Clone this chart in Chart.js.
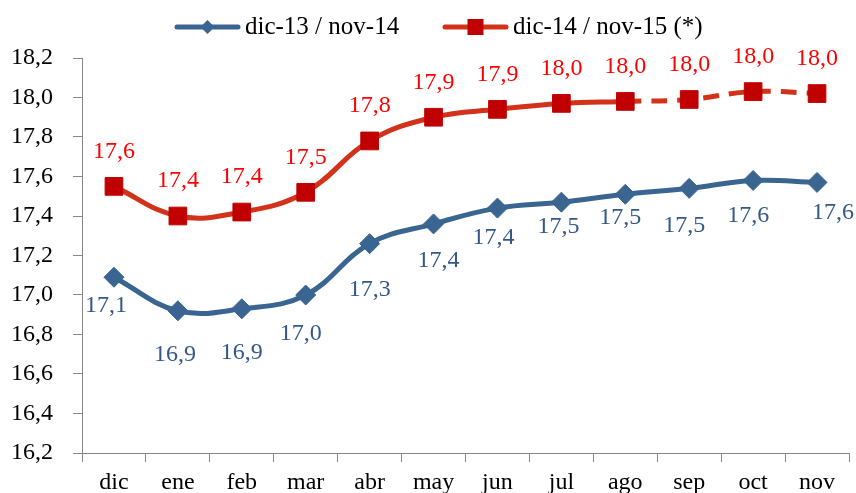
<!DOCTYPE html>
<html>
<head>
<meta charset="utf-8">
<script src="https://cdn.jsdelivr.net/npm/chart.js@4/dist/chart.umd.min.js"></script>
<style>
  html, body { margin: 0; padding: 0; background: #fff; }
  #caixa { width: 856px; height: 493px; position: relative; }
</style>
</head>
<body>
<div id="caixa"><canvas id="grafico"></canvas></div>
<script>
// Meses do eixo X e as duas séries
const MESES = ['dic', 'ene', 'feb', 'mar', 'abr', 'may', 'jun', 'jul', 'ago', 'sep', 'oct', 'nov'];
const SERIE_1 = [17.09, 16.92, 16.93, 17.00, 17.26, 17.36, 17.44, 17.47, 17.51, 17.54, 17.58, 17.57];
const SERIE_2 = [17.55, 17.40, 17.42, 17.52, 17.78, 17.90, 17.94, 17.97, 17.98, 17.99, 18.03, 18.02];
const NOMES = ['dic-13 / nov-14', 'dic-14 / nov-15 (*)'];
const Y_MIN = 16.2, Y_MAX = 18.2, Y_PASSO = 0.2;

const AZUL = '#3A6591';
const AZUL_TEXTO = '#34588A';
const VERMELHO_LINHA = '#D3321A';
const VERMELHO_PONTO = '#C00000';
const VERMELHO_TEXTO = '#FF0000';
const FONTE = '"Liberation Serif", "Times New Roman", serif';

// deslocamento dos rótulos da série azul (x, y) em relação ao ponto
const DESLOC_AZUL = [[-8, 28], [-3, 44], [0, 44], [-5, 39], [0, 46], [5, 37], [-4, 30], [-3, 25], [-5, 23], [-5, 37], [-5, 35], [16, 30]];

const fmt = (v) => (Math.round(v * 10) / 10).toFixed(1).replace('.', ',');

// rótulos de valor em cada ponto
const pluginRotulos = {
    id: 'rotulos',
    afterDatasetsDraw(chart) {
        const ctx = chart.ctx;
        ctx.save();
        ctx.font = '24px ' + FONTE;
        ctx.textAlign = 'center';
        ctx.textBaseline = 'middle';
        chart.data.datasets.forEach((ds, i) => {
            const meta = chart.getDatasetMeta(i);
            meta.data.forEach((pt, j) => {
                let dx = 0, dy = -35;
                if (i === 0) { dx = DESLOC_AZUL[j][0]; dy = DESLOC_AZUL[j][1]; }
                ctx.fillStyle = i === 0 ? AZUL_TEXTO : VERMELHO_TEXTO;
                ctx.fillText(fmt(ds.data[j]), pt.x + dx, pt.y + dy);
            });
        });
        ctx.restore();
    }
};

// legenda no topo: linha com marcador + texto
const pluginLegenda = {
    id: 'legendaTopo',
    afterDraw(chart) {
        const ctx = chart.ctx;
        const y = 27;
        const itens = [
            { x: 175, cor: AZUL, ponto: AZUL, tipo: 'losango' },
            { x: 443, cor: VERMELHO_LINHA, ponto: VERMELHO_PONTO, tipo: 'quadrado' }
        ];
        ctx.save();
        itens.forEach((it, i) => {
            ctx.strokeStyle = it.cor;
            ctx.lineWidth = 5;
            ctx.lineCap = 'round';
            ctx.beginPath();
            ctx.moveTo(it.x + 2, y);
            ctx.lineTo(it.x + 63, y);
            ctx.stroke();
            const cx = it.x + 32.5;
            ctx.fillStyle = it.ponto;
            ctx.beginPath();
            if (it.tipo === 'losango') {
                ctx.moveTo(cx, y - 7); ctx.lineTo(cx + 7, y); ctx.lineTo(cx, y + 7); ctx.lineTo(cx - 7, y);
                ctx.closePath();
            } else {
                ctx.rect(cx - 8, y - 8, 16, 16);
            }
            ctx.fill();
            ctx.fillStyle = '#000';
            ctx.font = '25px ' + FONTE;
            ctx.textAlign = 'left';
            ctx.textBaseline = 'middle';
            ctx.fillText(NOMES[i], it.x + 70, y);
        });
        ctx.restore();
    }
};

new Chart(document.getElementById('grafico'), {
    type: 'line',
    data: {
        labels: MESES,
        datasets: [{
            label: NOMES[0],
            data: SERIE_1,
            borderColor: AZUL,
            backgroundColor: AZUL,
            borderWidth: 5,
            tension: 0.4,
            pointStyle: 'rectRot',
            pointRadius: 10,
            pointBorderWidth: 1,
            pointBackgroundColor: AZUL,
            pointBorderColor: AZUL
        }, {
            label: NOMES[1],
            data: SERIE_2,
            borderColor: VERMELHO_LINHA,
            backgroundColor: VERMELHO_PONTO,
            borderWidth: 5,
            tension: 0.4,
            pointStyle: 'rect',
            pointRadius: 12.5,
            pointBorderWidth: 1,
            pointBackgroundColor: VERMELHO_PONTO,
            pointBorderColor: VERMELHO_PONTO,
            segment: {
                // trecho projetado (após ago) tracejado
                borderDash: (c) => c.p0DataIndex >= 8 ? [16, 10] : undefined
            }
        }]
    },
    options: {
        responsive: true,
        maintainAspectRatio: false,
        animation: false,
        // sem autoPadding: senão o raio dos pontos empurra a área do gráfico
        layout: { autoPadding: false, padding: { top: 58, right: 7, left: 0, bottom: 0 } },
        plugins: {
            legend: { display: false },
            tooltip: { enabled: false }
        },
        scales: {
            x: {
                offset: true,
                grid: { offset: true, drawOnChartArea: false, drawTicks: true, tickLength: 9, color: '#888' },
                border: { color: '#888', width: 1 },
                ticks: { color: '#000', font: { family: FONTE, size: 24 }, padding: 6, maxRotation: 0, autoSkip: false },
                afterFit: (s) => { s.height = 40; s.paddingLeft = 0; s.paddingRight = 0; }
            },
            y: {
                min: Y_MIN,
                max: Y_MAX,
                grid: { drawOnChartArea: false, drawTicks: true, tickLength: 9, color: '#888' },
                border: { color: '#888', width: 1 },
                ticks: {
                    stepSize: Y_PASSO,
                    color: '#000',
                    font: { family: FONTE, size: 24 },
                    padding: 20,
                    callback: (v) => v.toFixed(1).replace('.', ',')
                },
                afterFit: (s) => { s.width = 82; }
            }
        }
    },
    plugins: [pluginRotulos, pluginLegenda]
});
</script>
</body>
</html>
